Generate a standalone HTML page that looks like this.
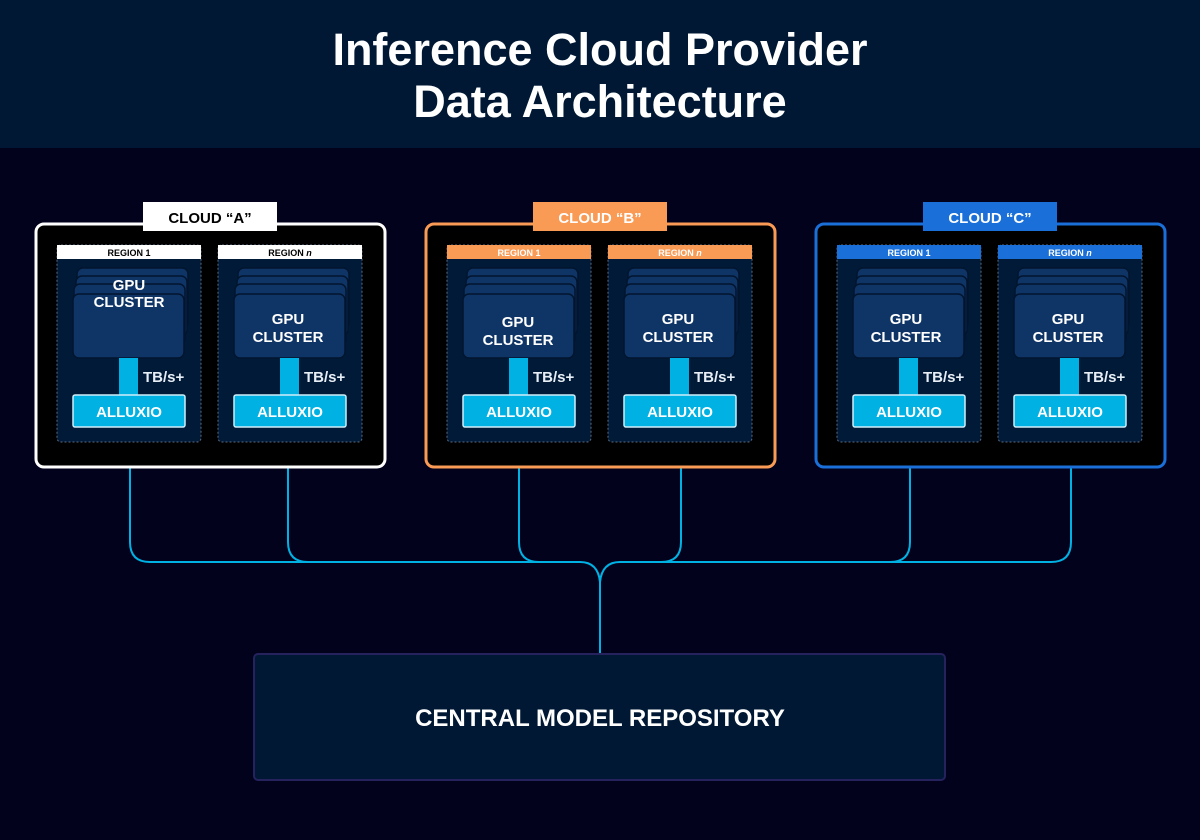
<!DOCTYPE html>
<html><head><meta charset="utf-8"><style>
html,body{margin:0;padding:0;background:#03021d;}
svg{display:block;font-family:"Liberation Sans",sans-serif;font-weight:bold;}
</style></head><body>
<svg width="1200" height="840" viewBox="0 0 1200 840" xmlns="http://www.w3.org/2000/svg">
<rect x="0" y="0" width="1200" height="840" fill="#03021d"/>
<rect x="0" y="0" width="1200" height="148" fill="#001833"/>
<text x="600" y="65" fill="#fff" font-size="45" text-anchor="middle">Inference Cloud Provider</text>
<text x="600" y="117" fill="#fff" font-size="45" text-anchor="middle">Data Architecture</text>

<g fill="none" stroke="#00b2e3" stroke-width="2">
<path d="M130,427 V542 Q130,562 150,562 H580 Q598,562 600,582"/>
<path d="M288,427 V542 Q288,562 308,562"/>
<path d="M519,427 V542 Q519,562 539,562"/>
<path d="M681,427 V542 Q681,562 661,562"/>
<path d="M910,427 V542 Q910,562 890,562"/>
<path d="M1071,427 V542 Q1071,562 1051,562 H620 Q602,562 600,582 V655"/>
</g>

<rect x="254" y="654" width="691" height="126" rx="4" fill="#001833" stroke="#25225e" stroke-width="2"/>
<text x="600" y="726" fill="#fff" font-size="24" text-anchor="middle">CENTRAL MODEL REPOSITORY</text>

<defs>
<g id="region">
<rect x="0" y="0" width="144" height="197" rx="4" fill="#001a38" stroke="#5a6a80" stroke-width="1" stroke-dasharray="2,2"/>
<rect x="20" y="23" width="111" height="60" rx="6" fill="#0f3466" stroke="#02152e" stroke-width="1.5"/>
<rect x="19" y="31" width="111" height="60" rx="6" fill="#0f3466" stroke="#02152e" stroke-width="1.5"/>
<rect x="17" y="39" width="111" height="60" rx="6" fill="#0f3466" stroke="#02152e" stroke-width="1.5"/>
<rect x="16" y="49" width="111" height="64" rx="6" fill="#0f3466" stroke="#02152e" stroke-width="1.5"/>
<rect x="62" y="113" width="19" height="38" fill="#00b2e3"/>
<rect x="16" y="150" width="112" height="32" rx="2" fill="#00b2e3" stroke="#cfeefa" stroke-width="1.5"/>
<text x="72" y="172" fill="#fff" font-size="15" text-anchor="middle">ALLUXIO</text>
<text x="86" y="137" fill="#e8eef5" font-size="15">TB/s+</text>
</g>
<g id="gpu">
<text x="72" y="79" fill="#fff" font-size="15" text-anchor="middle">GPU</text>
<text x="72" y="97" fill="#fff" font-size="15" text-anchor="middle">CLUSTER</text>
</g>
</defs>

<!-- Cloud A -->
<rect x="36" y="224" width="349" height="243" rx="8" fill="#000" stroke="#fff" stroke-width="3"/>
<rect x="143" y="202" width="134" height="29" fill="#fff"/>
<text x="210" y="223" fill="#000" font-size="15" text-anchor="middle">CLOUD “A”</text>
<use href="#region" x="57" y="245"/>
<rect x="57" y="245" width="144" height="14" fill="#fff"/>
<text x="129" y="256" fill="#000" font-size="9" text-anchor="middle">REGION 1</text>
<text x="129" y="290" fill="#fff" font-size="15" text-anchor="middle">GPU</text>
<text x="129" y="307" fill="#fff" font-size="15" text-anchor="middle">CLUSTER</text>
<use href="#region" x="218" y="245"/>
<rect x="218" y="245" width="144" height="14" fill="#fff"/>
<text x="290" y="256" fill="#000" font-size="9" text-anchor="middle">REGION <tspan font-style="italic">n</tspan></text>
<use href="#gpu" x="216" y="245"/>

<!-- Cloud B -->
<rect x="426" y="224" width="349" height="243" rx="8" fill="#000" stroke="#f99a55" stroke-width="3"/>
<rect x="533" y="202" width="134" height="29" fill="#f99a55"/>
<text x="600" y="223" fill="#fff" font-size="15" text-anchor="middle">CLOUD “B”</text>
<use href="#region" x="447" y="245"/>
<rect x="447" y="245" width="144" height="14" fill="#f99a55"/>
<text x="519" y="256" fill="#fff" font-size="9" text-anchor="middle">REGION 1</text>
<use href="#gpu" x="446" y="248"/>
<use href="#region" x="608" y="245"/>
<rect x="608" y="245" width="144" height="14" fill="#f99a55"/>
<text x="680" y="256" fill="#fff" font-size="9" text-anchor="middle">REGION <tspan font-style="italic">n</tspan></text>
<use href="#gpu" x="606" y="245"/>

<!-- Cloud C -->
<rect x="816" y="224" width="349" height="243" rx="8" fill="#000" stroke="#1a6fd8" stroke-width="3"/>
<rect x="923" y="202" width="134" height="29" fill="#1a6fd8"/>
<text x="990" y="223" fill="#fff" font-size="15" text-anchor="middle">CLOUD “C”</text>
<use href="#region" x="837" y="245"/>
<rect x="837" y="245" width="144" height="14" fill="#1a6fd8"/>
<text x="909" y="256" fill="#fff" font-size="9" text-anchor="middle">REGION 1</text>
<use href="#gpu" x="834" y="245"/>
<use href="#region" x="998" y="245"/>
<rect x="998" y="245" width="144" height="14" fill="#1a6fd8"/>
<text x="1070" y="256" fill="#fff" font-size="9" text-anchor="middle">REGION <tspan font-style="italic">n</tspan></text>
<use href="#gpu" x="996" y="245"/>
</svg>
</body></html>
